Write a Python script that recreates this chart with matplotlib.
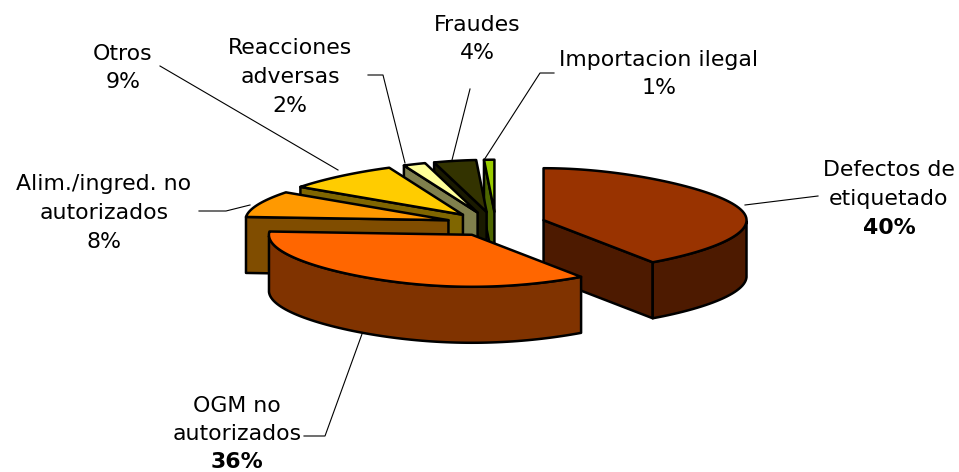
import numpy as np
import matplotlib
matplotlib.use("Agg")
import matplotlib.pyplot as plt
from matplotlib.patches import Polygon

categories = ["Defectos de\netiquetado", "OGM no\nautorizados", "Alim./ingred. no\nautorizados", "Otros",
              "Reacciones\nadversas", "Fraudes", "Importacion ilegal"]
values = [40, 36, 8, 9, 2, 4, 1]
top_colors = ["#993300", "#FF6600", "#FF9900", "#FFCC00", "#FFFF99", "#333300", "#99CC00"]
side_colors = ["#4D1A00", "#803300", "#804D00", "#806600", "#80804D", "#1A1A00", "#4D6600"]
bold_label = [True, True, False, False, False, False, False]

# layout of the pie, in pixels
CX, CY = 496, 224
RX, RY = 203, 52
EX, EY = 50, 12.3
H = 56
TAPER = 0.13
BACK_TAPER = 0.05

fig = plt.figure(figsize=(9.59, 4.72), dpi=100)
ax = fig.add_axes([0, 0, 1, 1])
ax.set_xlim(0, 959)
ax.set_ylim(472, 0)
ax.axis("off")


def pt(theta):
    c = np.cos(theta)
    extra = BACK_TAPER * np.where(c > 0, c ** 2, 0)
    return RX * np.sin(theta) * (1 - TAPER * c ** 2 - extra), -RY * c


def face(points, color, z):
    ax.add_patch(Polygon(points, closed=True, facecolor=color, edgecolor="black",
                         linewidth=1.8, joinstyle="round", zorder=z))


total = sum(values)
edges = np.cumsum([0] + values) / total * 2 * np.pi
# paint from the back of the picture to the front
order = [6, 5, 4, 3, 2, 0, 1]
for z, i in enumerate(order):
    t1, t2 = edges[i], edges[i + 1]
    mid = (t1 + t2) / 2
    ox = CX + EX * np.sin(mid)
    oy = CY - EY * np.cos(mid)
    arc = np.linspace(t1, t2, 80)
    dx, dy = pt(arc)
    px, py = ox + dx, oy + dy
    base = z * 10
    if np.sin(t1) < -1e-6:
        x, y = px[0], py[0]
        face([(ox, oy), (x, y), (x, y + H), (ox, oy + H)], side_colors[i], base + 1)
    if np.sin(t2) > 1e-6:
        x, y = px[-1], py[-1]
        face([(ox, oy), (x, y), (x, y + H), (ox, oy + H)], side_colors[i], base + 1)
    front = np.cos(arc) < 0
    if front.any():
        fx, fy = px[front], py[front]
        face(list(zip(fx, fy)) + list(zip(fx[::-1], fy[::-1] + H)), side_colors[i], base + 2)
    face([(ox, oy)] + list(zip(px, py)), top_colors[i], base + 3)

FS = 15.8
SPACING = 28.5
label_pos = [(889, 199), (237, 434), (104, 213), (123, 68), (290, 77), (477, 39), (659, 74)]
leaders = [
    [(745, 205), (818, 196)],
    [(362, 334), (325, 436), (304, 436)],
    [(250, 205), (226, 211), (199, 211)],
    [(338, 170), (160, 66)],
    [(405, 163), (383, 75), (368, 75)],
    [(452, 160), (470, 89)],
    [(484, 160), (540, 73), (554, 73)],
]
for i, name in enumerate(categories):
    lx, ly = label_pos[i]
    n = name.count("\n") + 1
    lines = name.split("\n") + [f"{values[i]}%"]
    for k, line in enumerate(lines):
        is_pct = k == n
        ax.text(lx, ly + (k - n / 2) * SPACING, line, ha="center", va="center", fontsize=FS,
                family="DejaVu Sans", color="black", zorder=200,
                fontweight="bold" if (is_pct and bold_label[i]) else "normal")
    xs, ys = zip(*leaders[i])
    ax.plot(xs, ys, color="black", lw=0.8, zorder=-1 if i != 1 else 150)

fig.savefig("out.png", dpi=100)
